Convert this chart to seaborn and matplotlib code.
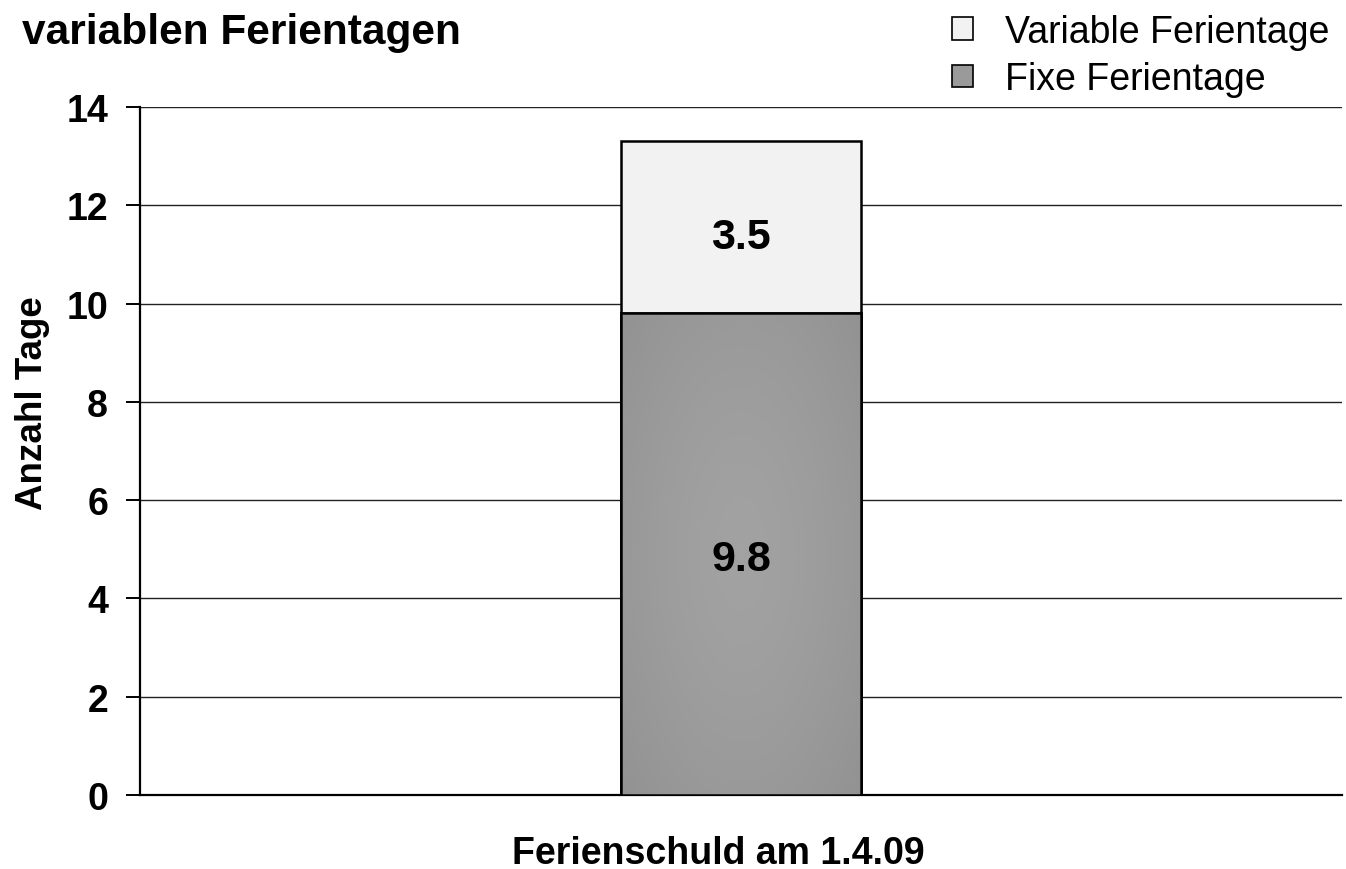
import matplotlib
matplotlib.use("Agg")
import matplotlib.pyplot as plt
from matplotlib.patches import Patch
from matplotlib.colors import LinearSegmentedColormap
import numpy as np
import seaborn as sns
import pandas as pd

# Data
category = ["Ferienschuld am 1.4.09"]
fixe_tage = [9.8]
variable_tage = [3.5]
yticks = [0, 2, 4, 6, 8, 10, 12, 14]

sns.set_theme(style="white")
plt.rcParams["font.family"] = ["Liberation Sans", "DejaVu Sans"]
plt.rcParams["text.color"] = "black"
plt.rcParams["axes.labelcolor"] = "black"
plt.rcParams["xtick.color"] = "black"
plt.rcParams["ytick.color"] = "black"

df = pd.DataFrame({
    "kategorie": category,
    "fixe": fixe_tage,
    "gesamt": [f + v for f, v in zip(fixe_tage, variable_tage)],
})

fig = plt.figure(figsize=(13.46, 8.70), dpi=100)
ax = fig.add_axes([140 / 1346, 74 / 870, 1202 / 1346, 688 / 870])

light = "#f2f2f2"
dark = "#9a9a9a"

# stacked bar: total drawn first, fixed part on top of it
sns.barplot(data=df, x="kategorie", y="gesamt", color=light, width=0.2,
            edgecolor="black", linewidth=1.8, ax=ax, zorder=3)
sns.barplot(data=df, x="kategorie", y="fixe", color=dark, width=0.2,
            edgecolor="black", linewidth=1.8, ax=ax, zorder=3)
for p in ax.patches:
    p.set_facecolor(p.get_facecolor()[:3] + (1.0,))

ax.set_xlim(-0.5, 0.5)
ax.set_ylim(0, 14)

# soft radial shading inside the fixed-days segment
fixed_patch = ax.patches[-1]
x0, y0 = fixed_patch.get_x(), fixed_patch.get_y()
w, h = fixed_patch.get_width(), fixed_patch.get_height()
gx, gy = np.meshgrid(np.linspace(-1, 1, 200), np.linspace(-1, 1, 400))
r = np.clip(np.sqrt(gx ** 2 + (gy * 0.9) ** 2) / 1.35, 0, 1)
shade_cmap = LinearSegmentedColormap.from_list("shade", ["#a2a2a2", "#929292"])
im = ax.imshow(r ** 1.5, cmap=shade_cmap, vmin=0, vmax=1, aspect="auto",
               extent=(x0, x0 + w, y0, y0 + h), origin="lower", zorder=3.5,
               interpolation="bilinear")
im.set_clip_path(fixed_patch)
outline = plt.Rectangle((x0, y0), w, h, fill=False, edgecolor="black",
                        linewidth=1.8, zorder=4)
ax.add_patch(outline)
ax.set_xlim(-0.5, 0.5)
ax.set_ylim(0, 14)

ax.set_yticks(yticks)
ax.set_yticklabels([str(t) for t in yticks], fontsize=27, fontweight="bold")
ax.set_xticks([])
ax.grid(axis="y", color="#222222", linewidth=1.0, zorder=0)
ax.set_axisbelow(True)
for s in ["top", "right"]:
    ax.spines[s].set_visible(False)
for s in ["left", "bottom"]:
    ax.spines[s].set_color("black")
    ax.spines[s].set_linewidth(1.6)
ax.tick_params(axis="y", which="major", left=True, length=10, width=1.4,
               color="black", pad=13)

ax.set_ylabel("Anzahl Tage", fontsize=26.5, fontweight="bold")
ax.yaxis.set_label_coords(-0.0745, 0.571)
ax.set_xlabel(category[0], fontsize=27, fontweight="bold")
ax.xaxis.set_label_coords(0.481, -0.058)

# segment labels
for i, (f, v) in enumerate(zip(fixe_tage, variable_tage)):
    ax.text(i, f / 2 - 0.1, f"{f:.1f}", ha="center", va="center",
            fontsize=31, fontweight="bold", zorder=5)
    ax.text(i, f + v / 2 - 0.2, f"{v:.1f}", ha="center", va="center",
            fontsize=31, fontweight="bold", zorder=5)

fig.text(22 / 1346, 1 - 33 / 870, "variablen Ferientagen", fontsize=30.5,
         fontweight="bold", ha="left", va="center")

handles = [Patch(facecolor=light, edgecolor="black", linewidth=1.2),
           Patch(facecolor=dark, edgecolor="black", linewidth=1.2)]
fig.legend(handles, ["Variable Ferientage", "Fixe Ferientage"],
           loc="upper right", bbox_to_anchor=(1344 / 1346, 1.0),
           frameon=False, fontsize=27, handlelength=0.55, handleheight=0.55,
           handletextpad=0.85, labelspacing=0.3, borderaxespad=0.0)

fig.savefig("out.png", dpi=100, facecolor="white")
